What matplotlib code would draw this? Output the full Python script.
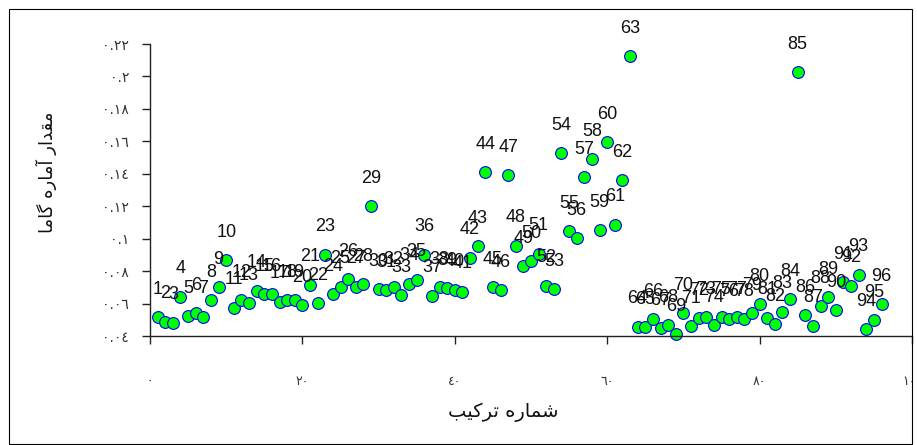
import matplotlib
matplotlib.use("Agg")
import matplotlib.pyplot as plt
from matplotlib.patches import Rectangle

# ---------------- data ----------------
combo_ids = list(range(1, 97))
gamma_values = [
    0.0516, 0.0489, 0.0482, 0.0643, 0.0524, 0.0540, 0.0519, 0.0623, 0.0701, 0.0866,
    0.0575, 0.0623, 0.0602, 0.0679, 0.0658, 0.0658, 0.0612, 0.0623, 0.0623, 0.0592,
    0.0716, 0.0602, 0.0901, 0.0658, 0.0705, 0.0751, 0.0705, 0.0720, 0.1199, 0.0691,
    0.0681, 0.0701, 0.0654, 0.0722, 0.0747, 0.0901, 0.0648, 0.0701, 0.0695, 0.0685,
    0.0674, 0.0883, 0.0953, 0.1411, 0.0701, 0.0681, 0.1390, 0.0957, 0.0829, 0.0860,
    0.0908, 0.0710, 0.0689, 0.1527, 0.1046, 0.1005, 0.1378, 0.1489, 0.1052, 0.1593,
    0.1087, 0.1359, 0.2127, 0.0458, 0.0454, 0.0503, 0.0448, 0.0468, 0.0412, 0.0540,
    0.0462, 0.0510, 0.0516, 0.0468, 0.0516, 0.0503, 0.0516, 0.0503, 0.0540, 0.0598,
    0.0513, 0.0474, 0.0550, 0.0627, 0.2028, 0.0530, 0.0464, 0.0586, 0.0640, 0.0561,
    0.0732, 0.0710, 0.0778, 0.0441, 0.0499, 0.0598,
]
x_ticks = [0, 20, 40, 60, 80, 100]
x_tick_labels = ["٠", "٢٠", "٤٠", "٦٠", "٨٠", "١٠٠"]
y_ticks = [0.04, 0.06, 0.08, 0.10, 0.12, 0.14, 0.16, 0.18, 0.20, 0.22]
y_tick_labels = ["٠.٠٤", "٠.٠٦", "٠.٠٨", "٠.١", "٠.١٢", "٠.١٤", "٠.١٦", "٠.١٨", "٠.٢", "٠.٢٢"]
x_label = "شماره ترکیب"
y_label = "مقدار آماره گاما"

# ------------- minimal Persian shaping (presentation forms) -------------
FORMS = {
    'ا': ('\uFE8D', '\uFE8E'),
    'آ': ('\uFE81', '\uFE82'),
    'د': ('\uFEA9', '\uFEAA'),
    'ر': ('\uFEAD', '\uFEAE'),
    'م': ('\uFEE1', '\uFEE2', '\uFEE3', '\uFEE4'),
    'ق': ('\uFED5', '\uFED6', '\uFED7', '\uFED8'),
    'ه': ('\uFEE9', '\uFEEA', '\uFEEB', '\uFEEC'),
    'گ': ('\uFB92', '\uFB93', '\uFB94', '\uFB95'),
    'ش': ('\uFEB5', '\uFEB6', '\uFEB7', '\uFEB8'),
    'ت': ('\uFE95', '\uFE96', '\uFE97', '\uFE98'),
    'ک': ('\uFB8E', '\uFB8F', '\uFB90', '\uFB91'),
    'ی': ('\uFBFC', '\uFBFD', '\uFBFE', '\uFBFF'),
    'ب': ('\uFE8F', '\uFE90', '\uFE91', '\uFE92'),
}


def shape(text):
    out = []
    for i, c in enumerate(text):
        if c not in FORMS:
            out.append(c)
            continue
        f = FORMS[c]
        prev = text[i - 1] if i > 0 else None
        nxt = text[i + 1] if i + 1 < len(text) else None
        jp = prev in FORMS and len(FORMS[prev]) == 4
        jn = len(f) == 4 and nxt in FORMS
        if jp and jn:
            out.append(f[3])
        elif jp:
            out.append(f[1])
        elif jn:
            out.append(f[2])
        else:
            out.append(f[0])
    return ''.join(reversed(out))


# ---------------- figure ----------------
W, H = 917, 445
fig = plt.figure(figsize=(W / 100, H / 100), dpi=100)
fig.patch.set_facecolor('white')

ax = fig.add_axes([150 / W, 1 - 336 / H, (912 - 150) / W, (336 - 44) / H])
ax.set_xlim(0, 100)
ax.set_ylim(0.04, 0.22)

ax.scatter(combo_ids, gamma_values, s=72, c='#00FF00', edgecolors='#0000FF',
           linewidths=0.8, clip_on=False, zorder=2)

for i, v in zip(combo_ids, gamma_values):
    ax.annotate(str(i), (i, v), xytext=(0, 20), textcoords='offset points',
                ha='center', va='center', fontsize=13, family='Liberation Sans',
                color='#111111', annotation_clip=False, zorder=3)

for s in ['top', 'right']:
    ax.spines[s].set_visible(False)
for s in ['left', 'bottom']:
    ax.spines[s].set_color('#222222')
    ax.spines[s].set_linewidth(1.0)

ax.set_xticks(x_ticks)
ax.set_xticklabels(x_tick_labels, family='DejaVu Sans', fontsize=9, color='#333333')
ax.set_yticks(y_ticks)
ax.set_yticklabels(y_tick_labels, family='DejaVu Sans', fontsize=10, color='#333333')
ax.tick_params(axis='x', direction='out', length=6, width=1, color='#222222', pad=22)
ax.tick_params(axis='y', direction='out', length=6, width=1, color='#222222', pad=9)

fig.text(503 / W, 1 - 412 / H, shape(x_label), ha='center', va='center',
         fontsize=14, family='DejaVu Sans', color='#111111')
fig.text(46 / W, 1 - 172 / H, shape(y_label), ha='center', va='center',
         rotation=90, fontsize=13, family='DejaVu Sans', color='#111111')

# outer chart border
fig.patches.append(Rectangle((8.5 / W, 1 / H), (912 - 8.5) / W, (444 - 8.5) / H,
                             transform=fig.transFigure, fill=False,
                             edgecolor='#000000', linewidth=0.8))

fig.savefig('out.png', dpi=100)
